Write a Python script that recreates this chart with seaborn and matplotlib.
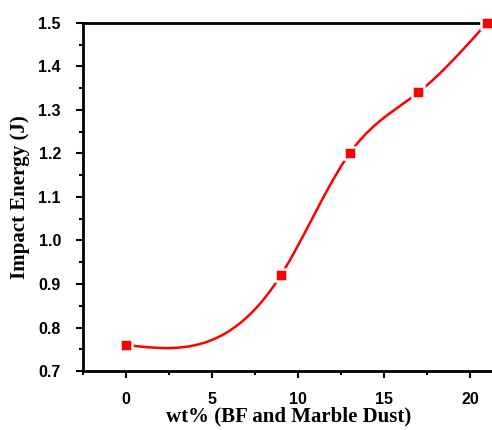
import numpy as np
import matplotlib
matplotlib.use('Agg')
import matplotlib.pyplot as plt
import seaborn as sns
from matplotlib.ticker import MultipleLocator

# Impact energy vs filler content
wt = [0, 9, 13, 17, 21]
energy = [0.76, 0.92, 1.20, 1.34, 1.50]


def natural_spline(x, y, n=300):
    # natural cubic spline through the measured points (for the smooth line only)
    x = np.asarray(x, float)
    y = np.asarray(y, float)
    k = len(x)
    h = np.diff(x)
    A = np.zeros((k, k))
    b = np.zeros(k)
    A[0, 0] = A[-1, -1] = 1
    for i in range(1, k - 1):
        A[i, i - 1] = h[i - 1]
        A[i, i] = 2 * (h[i - 1] + h[i])
        A[i, i + 1] = h[i]
        b[i] = 6 * ((y[i + 1] - y[i]) / h[i] - (y[i] - y[i - 1]) / h[i - 1])
    M = np.linalg.solve(A, b)
    xs = np.linspace(x[0], x[-1], n)
    idx = np.clip(np.searchsorted(x, xs) - 1, 0, k - 2)
    x0, x1 = x[idx], x[idx + 1]
    hh = x1 - x0
    ys = (M[idx] * (x1 - xs) ** 3 + M[idx + 1] * (xs - x0) ** 3) / (6 * hh) \
        + (y[idx] / hh - M[idx] * hh / 6) * (x1 - xs) \
        + (y[idx + 1] / hh - M[idx + 1] * hh / 6) * (xs - x0)
    return xs, ys


sns.set_style("ticks")
plt.rcParams['font.family'] = ['Liberation Sans', 'DejaVu Sans']
plt.rcParams['text.color'] = 'black'
plt.rcParams['axes.labelcolor'] = 'black'
plt.rcParams['xtick.color'] = 'black'
plt.rcParams['ytick.color'] = 'black'

fig = plt.figure(figsize=(4.92, 4.30), dpi=100)
ax = fig.add_axes([0.169, 0.137, 0.835, 0.81])

xs, ys = natural_spline(wt, energy)
sns.lineplot(x=xs, y=ys, color='red', linewidth=1.8, ax=ax, clip_on=False)
ax.plot(wt, energy, linestyle='none', marker='s', markersize=8,
        color='red', markeredgecolor='white', markeredgewidth=1.8,
        clip_on=False, zorder=5)

ax.set_xlim(-2.5, 21.4)
ax.set_ylim(0.7, 1.5)
ax.xaxis.set_major_locator(MultipleLocator(5))
ax.xaxis.set_minor_locator(MultipleLocator(2.5))
ax.yaxis.set_minor_locator(MultipleLocator(0.05))
ax.set_yticks(np.arange(0.7, 1.51, 0.1))
ax.set_yticklabels([f'{v:.1f}' for v in np.arange(0.7, 1.51, 0.1)])

for side in ['left', 'bottom', 'top']:
    ax.spines[side].set_linewidth(2)
    ax.spines[side].set_color('black')
ax.spines['right'].set_visible(False)

ax.tick_params(which='major', direction='out', length=5, width=1.5,
               labelsize=11.5, top=False, colors='black')
ax.tick_params(which='minor', direction='out', length=3, width=1.5, top=False,
               colors='black')
ax.tick_params(axis='x', which='major', pad=10)
ax.tick_params(axis='y', which='major', pad=11)
for lab in ax.get_xticklabels() + ax.get_yticklabels():
    lab.set_fontweight('bold')

ax.set_xlabel('wt% (BF and Marble Dust)', fontsize=15, fontweight='bold',
              family=['Liberation Serif', 'DejaVu Serif'], labelpad=0,
              color='black')
ax.set_ylabel('Impact Energy (J)', fontsize=15, fontweight='bold',
              family=['Liberation Serif', 'DejaVu Serif'], labelpad=6,
              color='black')

fig.savefig('out.png', dpi=100)
